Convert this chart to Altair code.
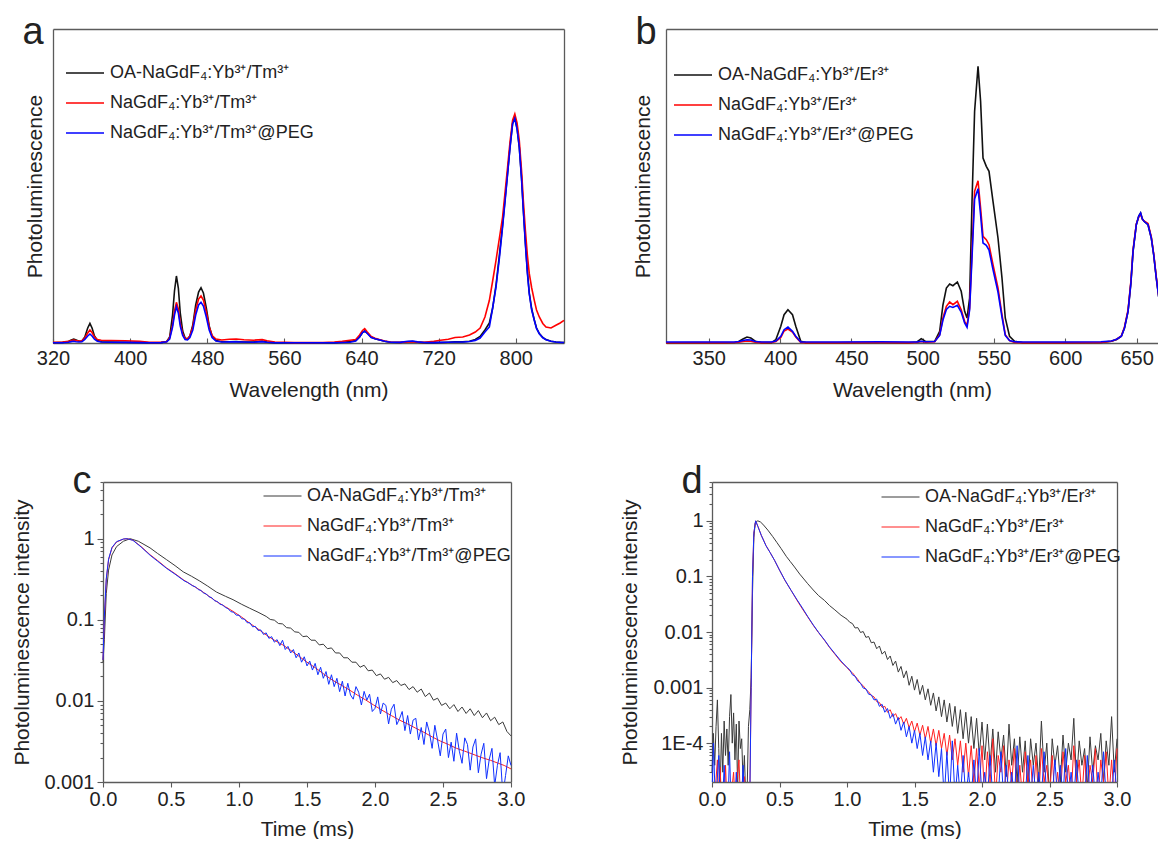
import altair as alt
import pandas as pd

FONT = "Liberation Sans"
INK = "#222222"
FRAME = "#5b5b5b"

TM_NAMES = ["OA-NaGdF₄:Yb³⁺/Tm³⁺", "NaGdF₄:Yb³⁺/Tm³⁺", "NaGdF₄:Yb³⁺/Tm³⁺@PEG"]
ER_NAMES = ["OA-NaGdF₄:Yb³⁺/Er³⁺", "NaGdF₄:Yb³⁺/Er³⁺", "NaGdF₄:Yb³⁺/Er³⁺@PEG"]
SPEC_COLORS = ["#111111", "#ff0000", "#0000ff"]
DECAY_COLORS = ["#3a3a3a", "#ff2020", "#1030ff"]

# ---------------- panel a : Tm emission spectra (a.u.) ----------------
TICKS_A = [320, 400, 480, 560, 640, 720, 800]
WL_A = [320, 330, 336, 339, 341.5, 344, 347, 350, 353, 356,
        358.3, 360.5, 363, 366, 370, 380, 395, 410, 420, 432,
        438, 441, 444, 446, 448, 450, 452, 454.5, 457, 459.5,
        462, 465, 468, 471, 473.5, 476, 479, 482, 485, 489,
        495, 503, 510, 518, 528, 537, 542, 550, 570, 600,
        612, 620, 628, 634, 638, 641, 643.3, 646, 650, 654,
        659, 664, 670, 680, 688, 693, 698, 705, 715, 722,
        730, 737, 745, 752, 758, 763, 768, 772.6, 776, 779.5,
        783, 786.3, 789, 791.5, 794, 796.7, 799, 801.3, 803.6, 806,
        807.8, 810, 812, 814, 816.5, 819.2, 821.5, 824.4, 828, 831.3,
        836.5, 841.6, 846, 850]
A_OA = [0.3, 0.6, 1.5, 3.0, 4.0, 3.0, 1.8, 2.0, 6.0, 15,
        19.7, 15, 7, 2.8, 1.2, 0.9, 0.7, 0.5, 0.3, 0.4,
        1.5, 6, 28, 52, 67, 55, 30, 12, 5, 4,
        7, 18, 38, 51, 55.3, 50, 35, 17, 7, 2.5,
        1.2, 1.2, 1.4, 1.0, 0.9, 1.8, 0.9, 0.4, 0.2, 0.2,
        0.4, 0.8, 1.5, 2.5, 6, 10.5, 12, 10, 6, 4.3,
        3, 1.8, 0.8, 0.5, 1.2, 1.5, 0.9, 0.4, 0.4, 0.5,
        0.8, 1.2, 1.1, 1.8, 3.5, 6.5, 13, 20, 35, 58,
        88, 118, 145, 170, 196, 220, 225, 215, 196, 165,
        134, 100, 72, 50, 34, 23, 15, 9.5, 5.5, 3.4,
        1.8, 1.0, 0.7, 0.5]
A_BARE = [0.6, 0.9, 1.6, 2.5, 3.0, 2.4, 2.0, 2.2, 5.0, 10,
          13, 10.5, 6, 3.5, 2.8, 2.5, 2.3, 1.6, 0.6, 0.6,
          1.5, 5, 18, 32, 40.7, 34, 20, 9, 4.5, 4.2,
          7, 16, 33, 44, 47, 43, 31, 16, 7.5, 4,
          3, 3.8, 4, 3.2, 2.8, 3.4, 2.2, 1, 0.4, 0.5,
          1.0, 1.6, 2.7, 3.5, 8, 12.5, 14.3, 11, 6.5, 4.8,
          3.3, 2, 1, 0.6, 1.1, 1.3, 0.9, 0.6, 1.6, 2.8,
          3.8, 5.5, 6, 8, 11, 15, 26, 42.7, 62, 82.7,
          105, 126, 152, 176, 201, 222.7, 229, 220, 202.7, 172,
          142.7, 112, 88, 69.3, 55, 42.7, 33, 26, 19.5, 16,
          15, 17.7, 20, 22.7]
A_PEG = [0.2, 0.3, 0.8, 1.4, 1.7, 1.3, 1.0, 1.2, 3.5, 7,
         9, 7, 3.8, 1.8, 1.0, 0.7, 0.6, 0.4, 0.3, 0.4,
         1.2, 4, 16, 28, 36.3, 30, 17, 7.5, 3.5, 3.2,
         5.5, 13, 28, 38, 40.7, 37, 26, 13, 5.5, 2,
         1, 1.1, 1.3, 1, 0.8, 1.4, 0.8, 0.3, 0.2, 0.2,
         0.3, 0.5, 0.8, 2, 6, 10.5, 12, 9.5, 5.5, 4.2,
         3, 1.8, 0.8, 0.6, 1.7, 2, 1.1, 0.5, 0.4, 0.6,
         0.8, 1.0, 1.0, 1.5, 2.6, 5, 11, 16, 35, 56,
         85, 116, 143, 169, 195, 219, 224.5, 214, 196, 163,
         132.7, 98, 70, 49, 33, 22.7, 14.5, 9.3, 5.2, 3.3,
         1.7, 1.0, 0.6, 0.5]

# ---------------- panel b : Er emission spectra (a.u.) ----------------
TICKS_B = [350, 400, 450, 500, 550, 600, 650]
WL_B = [320, 340, 360, 368, 371, 374, 376.8, 379.5, 382.6, 387,
        394, 397, 400.5, 402.8, 405.5, 408.7, 411, 414.5, 418, 440,
        470, 490, 496, 499, 502, 508.4, 511.9, 514.2, 516.6, 518.9,
        521.2, 524.3, 527, 529.4, 531.1, 532.9, 534.6, 536.4, 538.8, 540.6,
        542.3, 544.6, 546.5, 549.3, 552.8, 555.6, 557.9, 560.9, 564.4, 570,
        600, 625, 632.3, 636, 639.3, 641.5, 644, 646, 647.5, 649.8,
        651.5, 652.8, 654, 655.2, 658, 660.3, 662, 663.8, 665.5, 667.3,
        669, 670.8]
B_OA = [0.3, 0.3, 0.3, 0.5, 1.5, 4, 6, 5, 1.8, 0.4,
        0.4, 3.3, 16.7, 28.3, 33.3, 28.3, 16.7, 1.7, 0.4, 0.3,
        0.5, 0.3, 1, 4.3, 1.5, 1.7, 11.7, 38, 55, 59,
        57.3, 61, 51.7, 31.7, 25, 45, 141.7, 231.7, 276.7, 241.7,
        185, 176.7, 171.7, 141.7, 105, 65, 25, 6.7, 1.7, 0.4,
        0.3, 0.5, 1.7, 3.5, 6.7, 15, 31.7, 60, 91.7, 118.3,
        127, 130, 124, 121.7, 118.3, 105, 88, 65, 46, 31.7,
        22, 15]
B_BARE = [0.3, 0.4, 0.4, 0.5, 0.8, 1.5, 2.0, 1.8, 0.8, 0.4,
          0.5, 1.5, 5.5, 12, 14, 11, 6, 0.6, 0.4, 0.4,
          0.5, 0.4, 0.6, 1.5, 0.8, 1.2, 8.3, 25, 36.7, 41,
          38.3, 41.7, 33.3, 21.7, 17.7, 35, 91.7, 151.7, 162.3, 135,
          106.7, 103.3, 98.3, 78.3, 55, 28.3, 8.3, 2.3, 0.6, 0.4,
          0.4, 0.6, 1.8, 3.8, 7, 16, 33, 62, 93, 119,
          126, 129, 124, 122, 119.5, 106, 89, 66, 47, 32,
          22.5, 15.5]
B_PEG = [1.0, 1.0, 1.0, 1.0, 1.5, 2.5, 3.3, 3.0, 1.5, 1.0,
         1.0, 2, 6.7, 13.3, 16, 11.7, 6.7, 1.0, 1.0, 1.0,
         1.2, 1.0, 1.1, 1.8, 1.2, 1.5, 7.5, 23, 33.5, 36.7,
         35.5, 37.7, 31, 20, 15.7, 33, 86, 144, 154.3, 128,
         100, 97.7, 93, 73.3, 51, 26, 7.5, 2.5, 1.2, 1.0,
         1.0, 1.2, 2, 3.8, 6.7, 15, 31.7, 60, 91.7, 118.3,
         127, 130, 124, 121.7, 118.3, 105, 88, 65, 46, 31.7,
         22, 15]

# ---------------- panel c : Tm decay curves ----------------
T_TICKS = [0, 0.5, 1.0, 1.5, 2.0, 2.5, 3.0]
C_OA_T = [0, 0.01, 0.024, 0.041, 0.066, 0.10, 0.15, 0.2, 0.26, 0.346,
          0.40, 0.468, 0.53, 0.59, 0.65, 0.712, 0.77, 0.834, 0.90, 0.956,
          1.02, 1.078, 1.14] + [round(1.20 + 0.03 * i, 2) for i in range(61)]
C_OA_V = [0.03, 0.057, 0.21, 0.41, 0.63, 0.80, 0.93, 1.0, 0.93, 0.77,
          0.66, 0.55, 0.465, 0.39, 0.345, 0.30, 0.26, 0.22, 0.195, 0.177,
          0.155, 0.139, 0.124,
          0.110, 0.101, 0.099, 0.090, 0.089, 0.080, 0.079, 0.071, 0.070, 0.062,
          0.063, 0.056, 0.056, 0.049, 0.050, 0.044, 0.045, 0.039, 0.039, 0.034,
          0.034, 0.030, 0.030, 0.026, 0.0275, 0.0235, 0.024, 0.0205, 0.0215, 0.0185,
          0.0195, 0.0168, 0.0178, 0.0155, 0.0162, 0.0138, 0.0150, 0.0128, 0.0140, 0.0113,
          0.0125, 0.0102, 0.0108, 0.0088, 0.0094, 0.0080, 0.0090, 0.0074, 0.0084, 0.0070,
          0.0080, 0.0066, 0.0076, 0.0062, 0.0071, 0.0057, 0.0063, 0.0051, 0.0055, 0.0042,
          0.0037]
C_BARE_T = [0, 0.01, 0.024, 0.041, 0.066, 0.10, 0.15, 0.176, 0.22, 0.28,
            0.346, 0.40, 0.468, 0.53, 0.59, 0.65, 0.712, 0.77, 0.834, 0.90,
            0.956, 1.02, 1.078, 1.14, 1.2, 1.26, 1.322, 1.38, 1.444, 1.50,
            1.566, 1.63, 1.688, 1.75, 1.81, 1.87, 1.93, 1.99, 2.05, 2.12,
            2.18, 2.24, 2.30, 2.36, 2.42, 2.48, 2.54, 2.60, 2.66, 2.72,
            2.785, 2.85, 2.907, 2.95, 3.0]
C_BARE_V = [0.032, 0.10, 0.31, 0.55, 0.77, 0.91, 0.99, 1.0, 0.96, 0.80,
            0.634, 0.54, 0.435, 0.37, 0.312, 0.27, 0.234, 0.20, 0.168, 0.145,
            0.127, 0.108, 0.091, 0.077, 0.065, 0.056, 0.049, 0.042, 0.0352, 0.030,
            0.0253, 0.021, 0.018, 0.0157, 0.0137, 0.0118, 0.0103, 0.0089, 0.0077, 0.0066,
            0.0058, 0.0052, 0.0046, 0.0041, 0.0036, 0.0032, 0.0029, 0.0026, 0.0024, 0.0022,
            0.0020, 0.00185, 0.0017, 0.0016, 0.00145]
C_PEG_T = [0, 0.01, 0.024, 0.041, 0.066, 0.10, 0.15, 0.176, 0.22, 0.28,
           0.346, 0.40, 0.468, 0.53] + [round(0.60 + 0.02 * i, 2) for i in range(121)]
C_PEG_V = [0.032, 0.11, 0.32, 0.56, 0.78, 0.92, 0.99, 1.0, 0.955, 0.79,
           0.625, 0.53, 0.43, 0.365,
           0.300, 0.290, 0.276, 0.262, 0.255, 0.236, 0.230, 0.214, 0.208, 0.192,
           0.187, 0.172, 0.168, 0.156, 0.152, 0.142, 0.137, 0.126, 0.124, 0.114,
           0.114, 0.103, 0.102, 0.092, 0.092, 0.082, 0.083, 0.074, 0.075, 0.066,
           0.069, 0.059, 0.062, 0.053, 0.057, 0.048, 0.056, 0.043, 0.047, 0.039,
           0.043, 0.034, 0.039, 0.030, 0.035, 0.027, 0.031, 0.024, 0.029, 0.021,
           0.026, 0.019, 0.023, 0.016, 0.021, 0.015, 0.019, 0.013, 0.0175, 0.0115,
           0.0165, 0.0118, 0.0105, 0.0150, 0.0128, 0.0089, 0.0131, 0.0102, 0.0121, 0.0074,
           0.0081, 0.0112, 0.0069, 0.0094, 0.0088, 0.0052, 0.0079, 0.0091, 0.0051, 0.0060,
           0.0074, 0.0043, 0.0066, 0.0039, 0.0058, 0.0061, 0.0033, 0.0047, 0.0029, 0.0055,
           0.0041, 0.0026, 0.0050, 0.0033, 0.0021, 0.0039, 0.0045, 0.0020, 0.0031, 0.0018,
           0.0040, 0.0024, 0.0017, 0.0035, 0.0029, 0.0014, 0.0027, 0.0034, 0.0013, 0.0022,
           0.0030, 0.0011, 0.0019, 0.0026, 0.0009, 0.0016, 0.0023, 0.0007, 0.0012, 0.0021,
           0.0016]
MINOR_C = [k * 0.001 for k in range(2, 10)] + [k * 0.01 for k in range(2, 10)] + \
          [k * 0.1 for k in range(2, 10)] + [2, 3, 4, 5]

# ---------------- panel d : Er decay curves ----------------
D_GRID = [round(1.0 + 0.02 * i, 2) for i in range(101)]
D_OA_T = [round(0.01 * i, 2) for i in range(30)] + \
         [0.30, 0.31, 0.32, 0.33, 0.34, 0.36, 0.38, 0.414, 0.45, 0.48, 0.512,
          0.55, 0.58, 0.611, 0.65, 0.68, 0.709, 0.75, 0.79, 0.833, 0.87, 0.91, 0.956] + D_GRID
D_OA_V = [3e-5, 1.5e-4, 4e-5, 2e-4, 6e-4, 8e-5, 1.2e-5, 1.5e-4, 3e-5, 2.5e-4,
          6e-5, 1.8e-4, 4e-5, 3e-4, 7.5e-4, 1e-4, 3.5e-4, 5e-5, 2.2e-4, 1.5e-5,
          2.5e-4, 8e-5, 1.2e-4, 2e-5, 6e-5, 1e-5, 1.2e-5, 2e-4, 4e-4, 1.5e-3,
          0.05, 0.5, 0.9, 0.98, 1.0, 0.95, 0.85, 0.68, 0.52, 0.41, 0.317,
          0.23, 0.185, 0.148, 0.11, 0.09, 0.074, 0.057, 0.045, 0.037, 0.030, 0.025, 0.020,
          0.0170, 0.0150, 0.0142, 0.0118, 0.0120, 0.0098, 0.0102, 0.0080, 0.0083, 0.0064,
          0.0066, 0.0050, 0.0056, 0.0040, 0.0045, 0.0032, 0.0037, 0.0025, 0.0030, 0.0019,
          0.0024, 0.0015, 0.0020, 0.0011, 0.0016, 0.0009, 0.0014, 0.00075, 0.0011, 0.0006,
          0.00095, 0.00048, 0.0008, 0.00038, 0.00068, 0.0003, 0.0006, 0.00024, 0.00052, 0.0002,
          0.00046, 0.00015, 0.0004, 0.00012, 0.00036, 0.0001, 0.0003, 0.00008, 0.00028, 0.00006,
          0.00024, 0.00005, 0.00022, 0.00004, 0.00018, 0.00003, 0.00016, 0.00005, 0.00014, 0.000025,
          0.00022, 0.00004, 0.00012, 0.00002, 0.00013, 0.00003, 0.00011, 0.000015, 0.00012, 0.00004,
          0.0001, 0.00002, 0.00025, 0.00003, 0.0001, 0.00001, 0.00012, 0.00004, 0.00009, 0.00002,
          0.00014, 0.00003, 0.0001, 0.00005, 0.00028, 0.00002, 0.00011, 0.00004, 0.00008, 0.000015,
          0.00013, 0.00003, 0.00009, 0.00005, 0.00015, 0.00002, 0.00011, 0.00004, 0.0003, 0.00003,
          0.00012]
D_BARE_T = [0.00, 0.02, 0.04, 0.05, 0.06, 0.07, 0.09, 0.10, 0.11, 0.14,
            0.16, 0.17, 0.20, 0.21, 0.24, 0.25, 0.28, 0.29, 0.30, 0.31,
            0.323, 0.34, 0.365, 0.40, 0.43, 0.463, 0.50, 0.54, 0.586, 0.63,
            0.67, 0.709, 0.75, 0.79, 0.833, 0.87, 0.91, 0.956] + D_GRID
D_BARE_V = [1e-5, 1e-5, 5e-5, 1e-5, 3.7e-5, 1e-5, 1e-5, 4e-5, 1e-5, 1e-5,
            3e-5, 1e-5, 5e-5, 1e-5, 2.5e-5, 1e-5, 1e-5, 0.001, 0.1, 0.6,
            1.0, 0.8, 0.55, 0.36, 0.27, 0.195, 0.13, 0.085, 0.056, 0.037,
            0.026, 0.0187, 0.0132, 0.0097, 0.0071, 0.0053, 0.0040, 0.0029,
            0.0023, 0.0020, 0.00185, 0.0016, 0.00140, 0.00118, 0.00108, 0.00092, 0.00084, 0.00072,
            0.00068, 0.00056, 0.00054, 0.00044, 0.00046, 0.00036, 0.0004, 0.0003, 0.00034, 0.00026,
            0.0003, 0.00022, 0.00028, 0.00019, 0.00025, 0.00016, 0.00023, 0.00014, 0.00021, 0.00012,
            0.0002, 0.0001, 0.00018, 0.00009, 0.00017, 0.00008, 0.00015, 0.00006, 0.00014, 0.00005,
            0.00012, 0.00004, 0.00011, 0.00003, 0.0001, 0.000025, 0.00009, 0.00002, 0.00008, 0.000015,
            0.00009, 0.00001, 0.00007, 0.00002, 0.00012, 0.00001, 0.00006, 0.00003, 0.00009, 0.00001,
            0.00005, 0.00002, 0.00008, 0.00001, 0.00004, 0.00001, 0.00007, 0.00002, 0.00005, 0.00001,
            0.00006, 0.00001, 0.00008, 0.00002, 0.00004, 0.00001, 0.00006, 0.00001, 0.00003, 0.00001,
            0.00007, 0.00002, 0.00004, 0.00001, 0.00009, 0.00002, 0.00005, 0.00001, 0.00006, 0.00001,
            0.00004, 0.00002, 0.00008, 0.00001, 0.00005, 0.00002, 0.00007, 0.00001, 0.00005, 0.00001,
            0.00008]
D_PEG_T = [0.00, 0.01, 0.02, 0.03, 0.05, 0.06, 0.08, 0.09, 0.10, 0.12,
           0.13, 0.14, 0.17, 0.18, 0.19, 0.22, 0.23, 0.24, 0.28, 0.29,
           0.30, 0.31, 0.323, 0.34, 0.365, 0.40, 0.43, 0.463, 0.50, 0.54,
           0.586, 0.63, 0.67, 0.709, 0.75, 0.79, 0.833, 0.87, 0.91, 0.956] + D_GRID
D_PEG_V = [1e-5, 1e-4, 2e-5, 1e-5, 6e-5, 1e-5, 1e-5, 4e-5, 1e-5, 1e-5,
           7e-5, 1e-5, 1e-5, 3e-5, 1e-5, 1e-5, 4e-5, 1e-5, 1e-5, 0.001,
           0.1, 0.6, 1.0, 0.79, 0.55, 0.355, 0.27, 0.196, 0.13, 0.086,
           0.056, 0.038, 0.027, 0.019, 0.0134, 0.0098, 0.0072, 0.0054, 0.0041, 0.0030,
           0.0023, 0.0021, 0.0017, 0.0016, 0.0013, 0.0012, 0.00098, 0.00095, 0.00076, 0.00074,
           0.00060, 0.00062, 0.00046, 0.0005, 0.00036, 0.00042, 0.00028, 0.00034, 0.00022, 0.00029,
           0.00017, 0.00024, 0.00013, 0.0002, 0.0001, 0.00017, 0.00008, 0.00015, 0.00006, 0.00013,
           0.00005, 0.00011, 0.00003, 0.0001, 0.000025, 0.00008, 0.00001, 0.00007, 0.00001, 0.00011,
           0.00001, 0.00004, 0.00001, 0.00006, 0.00001, 0.00003, 0.00001, 0.00005, 0.00001, 0.00008,
           0.00001, 0.00003, 0.00001, 0.00006, 0.00001, 0.00002, 0.00001, 0.00007, 0.00001, 0.00004,
           0.00001, 0.00003, 0.00001, 0.00009, 0.00001, 0.00002, 0.00001, 0.00006, 0.00001, 0.00004,
           0.00001, 0.00003, 0.00001, 0.00007, 0.00001, 0.00002, 0.00001, 0.00005, 0.00001, 0.00004,
           0.00001, 0.00008, 0.00001, 0.00003, 0.00001, 0.00005, 0.00001, 0.00002, 0.00001, 0.00006,
           0.00001, 0.00004, 0.00001, 0.00003, 0.00001, 0.00007, 0.00001, 0.00002, 0.00001, 0.00005,
           0.00001]
MINOR_D = [k * 1e-5 for k in range(3, 10)] + [k * 1e-4 for k in range(2, 10)] + \
          [k * 0.001 for k in range(2, 10)] + [k * 0.01 for k in range(2, 10)] + \
          [k * 0.1 for k in range(2, 10)] + [2, 3, 4, 5]

# ---------------- layout (pixel geometry of the four plot frames) ----------------
W, H = 1105, 753
XA_R, XB_R = [0, 511], [613, 1105]
XC_R, XD_R = [50, 458], [659, 1064]
YT_R, YB_R = [314, 0], [753, 453]


def long_df(xs_list, ys_list, names, xname, yname):
    parts = [pd.DataFrame({xname: xs, yname: ys, "series": n})
             for xs, ys, n in zip(xs_list, ys_list, names)]
    return pd.concat(parts, ignore_index=True)


def make_legend(lx, ly, stroke_w):
    return alt.Legend(orient="none", legendX=lx, legendY=ly, title=None,
                      symbolType="stroke", symbolSize=1444, symbolStrokeWidth=stroke_w,
                      labelFont=FONT, labelFontSize=18, labelColor=INK,
                      labelOffset=5, labelLimit=0, padding=0, rowPadding=12,
                      clipHeight=18, direction="vertical")


def guide(xf=None, xs=None, xax=None, xv=None, yf=None, ys=None, yax=None, yv=None):
    data, enc = {}, {}
    if xf:
        data[xf] = [xv]
        enc["x"] = alt.X(f"{xf}:Q", scale=xs, axis=xax)
    if yf:
        data[yf] = [yv]
        enc["y"] = alt.Y(f"{yf}:Q", scale=ys, axis=yax)
    return alt.Chart(pd.DataFrame(data)).mark_point(opacity=0).encode(**enc)


def border_top(offset, letter, x0, dy):
    return alt.Axis(orient="top", offset=offset, labels=False, ticks=False, domain=True,
                    title=letter, titleX=x0 - 31, titleY=dy, titleAngle=0, titleAlign="left",
                    titleBaseline="alphabetic", titleFontSize=38, titleFont=FONT,
                    titleFontWeight="normal", titleColor=INK, titlePadding=0, tickCount=2)


def border_right(offset):
    return alt.Axis(orient="right", offset=offset, labels=False, ticks=False, domain=True,
                    title=None, minExtent=0, tickCount=2)


# ---- panel a
xa = alt.Scale(domain=[320, 850], range=XA_R, nice=False, zero=False)
ya = alt.Scale(domain=[0, 314], range=YT_R, nice=False)
df_a = long_df([WL_A] * 3, [A_OA, A_BARE, A_PEG], TM_NAMES, "wl", "pl")
lines_a = alt.Chart(df_a).mark_line(strokeWidth=1.6, clip=True).encode(
    x=alt.X("wl:Q", scale=xa, axis=alt.Axis(orient="bottom", offset=-(H - 314), values=TICKS_A,
                                            ticks=False, domain=True, labelPadding=5, labelFlush=False,
                                            labelOverlap=False, title="Wavelength (nm)", titlePadding=11)),
    y=alt.Y("pl:Q", scale=ya, axis=alt.Axis(orient="left", ticks=False, labels=False, domain=True,
                                            title="Photoluminescence", titlePadding=8, minExtent=0)),
    color=alt.Color("series:N", scale=alt.Scale(domain=TM_NAMES, range=SPEC_COLORS),
                    legend=make_legend(12, 35, 1.6)),
)
ticks_a = guide("wl", xa, alt.Axis(orient="top", offset=-314, values=TICKS_A, labels=False,
                                   domain=False, tickSize=5, title=None), 400,
                "pl", ya, border_right(-(W - XA_R[1])), 10)
top_a = guide("wl", xa, border_top(0, "a", XA_R[0], 14), 400)

# ---- panel b
xb = alt.Scale(domain=[320, 665], range=XB_R, nice=False, zero=False)
yb = alt.Scale(domain=[0, 314], range=YT_R, nice=False)
df_b = long_df([WL_B] * 3, [B_OA, B_BARE, B_PEG], ER_NAMES, "wl", "pl")
lines_b = alt.Chart(df_b).mark_line(strokeWidth=1.6, clip=True).encode(
    x=alt.X("wl:Q", scale=xb, axis=alt.Axis(orient="bottom", offset=-(H - 314), values=TICKS_B,
                                            ticks=False, domain=True, labelPadding=5, labelFlush=False,
                                            labelOverlap=False, title="Wavelength (nm)", titlePadding=11)),
    y=alt.Y("pl:Q", scale=yb, axis=alt.Axis(orient="left", offset=-XB_R[0], ticks=False, labels=False,
                                            domain=True, title="Photoluminescence", titlePadding=13,
                                            minExtent=0)),
    color=alt.Color("series:N", scale=alt.Scale(domain=ER_NAMES, range=SPEC_COLORS),
                    legend=make_legend(XB_R[0] + 7, 37, 1.6)),
)
ticks_b = guide("wl", xb, alt.Axis(orient="top", offset=-314, values=TICKS_B, labels=False,
                                   domain=False, tickSize=5, title=None), 400)
top_b = guide("wl", xb, border_top(0, "b", XB_R[0], 14), 400)


# ---- decay panels
def decay_layers(df, names, ydomain, major, minor, title_pad, xr, lx, ly, tag):
    xs = alt.Scale(domain=[0, 3], range=xr, nice=False)
    ys = alt.Scale(type="log", domain=ydomain, range=YB_R, nice=False)
    lines = alt.Chart(df).mark_line(strokeWidth=1, clip=True).encode(
        x=alt.X("t:Q", scale=xs, axis=alt.Axis(orient="bottom", values=T_TICKS, format=".1f", tickSize=5,
                                               labelPadding=2, domain=True, labelFlush=False,
                                               labelOverlap=False, title="Time (ms)", titlePadding=9)),
        y=alt.Y("v:Q", scale=ys, axis=alt.Axis(orient="left", offset=-xr[0], values=major,
                                               labelExpr="datum.value < 0.0005 ? '1E-4' : format(datum.value, '~g')",
                                               tickSize=6, labelPadding=3, domain=True, labelOverlap=False,
                                               title="Photoluminescence intensity", titlePadding=title_pad,
                                               minExtent=0)),
        color=alt.Color("series:N", scale=alt.Scale(domain=names, range=DECAY_COLORS),
                        legend=make_legend(xr[0] + lx, 453 + ly, 1.0)),
    )
    minor_layer = alt.Chart(pd.DataFrame({"t": [1.0] * len(minor), "v": minor})).mark_point(opacity=0).encode(
        x=alt.X("t:Q", scale=xs, axis=border_top(-453, tag, xr[0], 10)),
        y=alt.Y("v:Q", scale=ys, axis=alt.Axis(orient="left", offset=-xr[0], values=minor, labels=False,
                                               domain=False, tickSize=3, title=None, minExtent=0)),
    )
    right = guide(yf="v", ys=ys, yax=border_right(-(W - xr[1])), yv=1.0)
    return [lines, minor_layer, right]


df_c = long_df([C_OA_T, C_BARE_T, C_PEG_T], [C_OA_V, C_BARE_V, C_PEG_V], TM_NAMES, "t", "v")
df_d = long_df([D_OA_T, D_BARE_T, D_PEG_T], [D_OA_V, D_BARE_V, D_PEG_V], ER_NAMES, "t", "v")
layers_c = decay_layers(df_c, TM_NAMES, [0.001, 5], [0.001, 0.01, 0.1, 1], MINOR_C, 11, XC_R, 160, 5, "c")
layers_d = decay_layers(df_d, ER_NAMES, [2e-5, 5], [0.0001, 0.001, 0.01, 0.1, 1], MINOR_D, 12, XD_R, 169, 6, "d")

chart = alt.layer(
    lines_a, ticks_a, top_a, lines_b, ticks_b, top_b, *layers_c, *layers_d
).resolve_scale(
    x="independent", y="independent", color="independent"
).resolve_axis(x="independent", y="independent").resolve_legend(color="independent").properties(
    width=W, height=H, padding={"left": 3, "top": 5, "right": 0, "bottom": 0}
).configure_view(stroke=None).configure_axis(
    labelFont=FONT, titleFont=FONT, labelFontSize=20, titleFontSize=21,
    titleFontWeight="normal", labelColor=INK, titleColor=INK,
    domainColor=FRAME, tickColor=FRAME, domainWidth=1.3, tickWidth=1.1, grid=False
)

chart.save("out.html", embed_options={"renderer": "svg", "actions": False})
